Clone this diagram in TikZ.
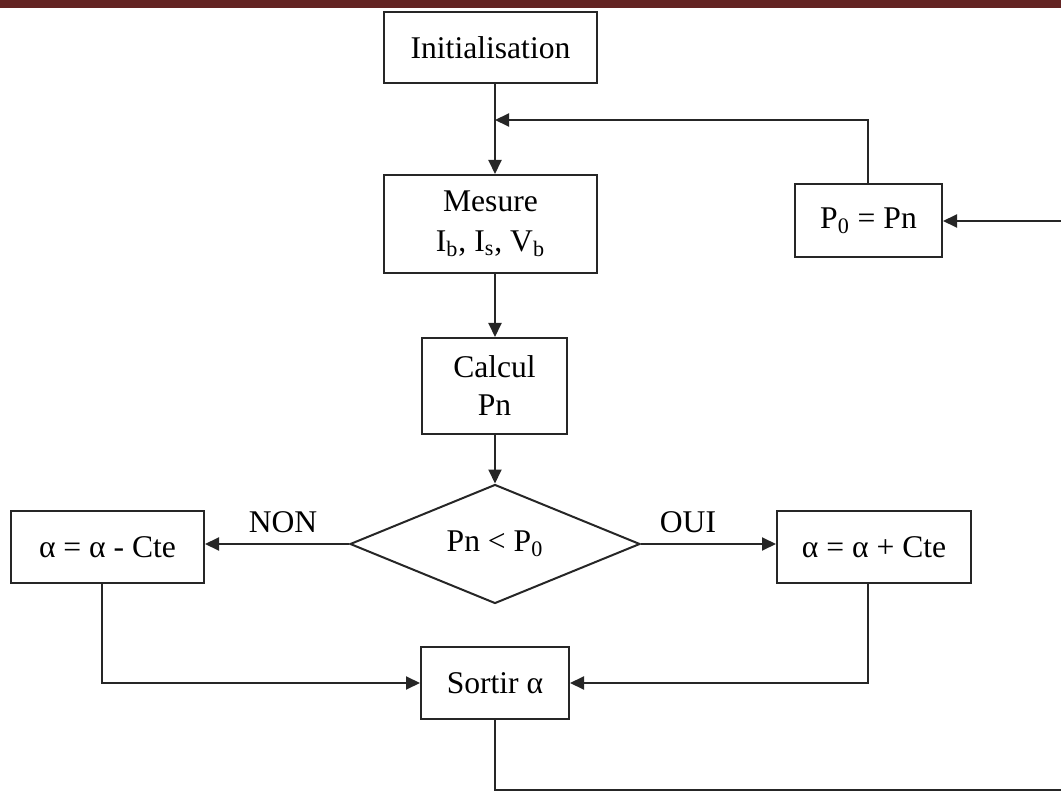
\documentclass[tikz,border=0pt]{standalone}
\usepackage{fontspec}
\setmainfont{Liberation Serif}
\usetikzlibrary{arrows.meta,shapes.geometric}
\definecolor{barred}{RGB}{99,36,35}
\begin{document}
\begin{tikzpicture}[x=0.5pt,y=-0.5pt,
  every node/.style={font=\fontsize{15.8}{19}\selectfont},
  box/.style={draw=black!85,line width=1pt,rectangle,inner sep=0pt,align=center},
  dec/.style={draw=black!85,line width=1pt,diamond,inner sep=0pt,aspect=2.4},
  conn/.style={draw=black!85,line width=1pt},
  arr/.style={conn,-{Triangle[length=7pt,width=6.5pt]}},
  lbl/.style={inner sep=0pt}]
\useasboundingbox (0,0) rectangle (1061,791);
\fill[barred] (0,0) rectangle (1061,8);
% nodes
\node[box,minimum width=106.5pt,minimum height=35.5pt] (init) at (490.5,47.5) {Initialisation};
\node[box,minimum width=106.5pt,minimum height=49pt] (mes) at (490.5,224) {Mesure\\[1pt]I\textsubscript{b}, I\textsubscript{s}, V\textsubscript{b}};
\node[box,minimum width=72.5pt,minimum height=48pt] (calc) at (494.5,386) {Calcul\\Pn};
\node[dec,minimum width=145pt,minimum height=59.5pt] (test) at (495,544) {Pn < P\textsubscript{0}};
\node[box,minimum width=96.5pt,minimum height=36pt] (moins) at (107.5,547) {α = α - Cte};
\node[box,minimum width=97pt,minimum height=36pt] (plus) at (874,547) {α = α + Cte};
\node[box,minimum width=73.5pt,minimum height=36.5pt] (pzero) at (868.5,220.5) {P\textsubscript{0} = Pn};
\node[box,minimum width=74pt,minimum height=36pt] (sortir) at (495,683) {Sortir α};
\node[lbl] (non) at (283,522) {NON};
\node[lbl] (oui) at (688,522) {OUI};
% helper coordinates
\coordinate (j1) at (495,120);
\coordinate (pz) at (868,120);
\coordinate (lb) at (102,683);
\coordinate (rb) at (868,683);
\coordinate (bot1) at (495,790);
\coordinate (bot2) at (1064,790);
\coordinate (rt) at (1064,221);
% connectors
\draw[arr] (init.south -| j1) -- (mes.north -| j1);
\draw[arr] (pzero.north -| pz) -- (pz) -- (j1);
\draw[arr] (mes.south -| j1) -- (calc.north -| j1);
\draw[arr] (calc.south -| j1) -- (test.north);
\draw[arr] (test.west) -- (moins.east |- test.west);
\draw[arr] (test.east) -- (plus.west |- test.east);
\draw[arr] (moins.south -| lb) -- (lb) -- (sortir.west);
\draw[arr] (plus.south -| rb) -- (rb) -- (sortir.east);
\draw[arr] (sortir.south) -- (bot1) -- (bot2) -- (rt) -- (pzero.east |- rt);
\end{tikzpicture}
\end{document}
